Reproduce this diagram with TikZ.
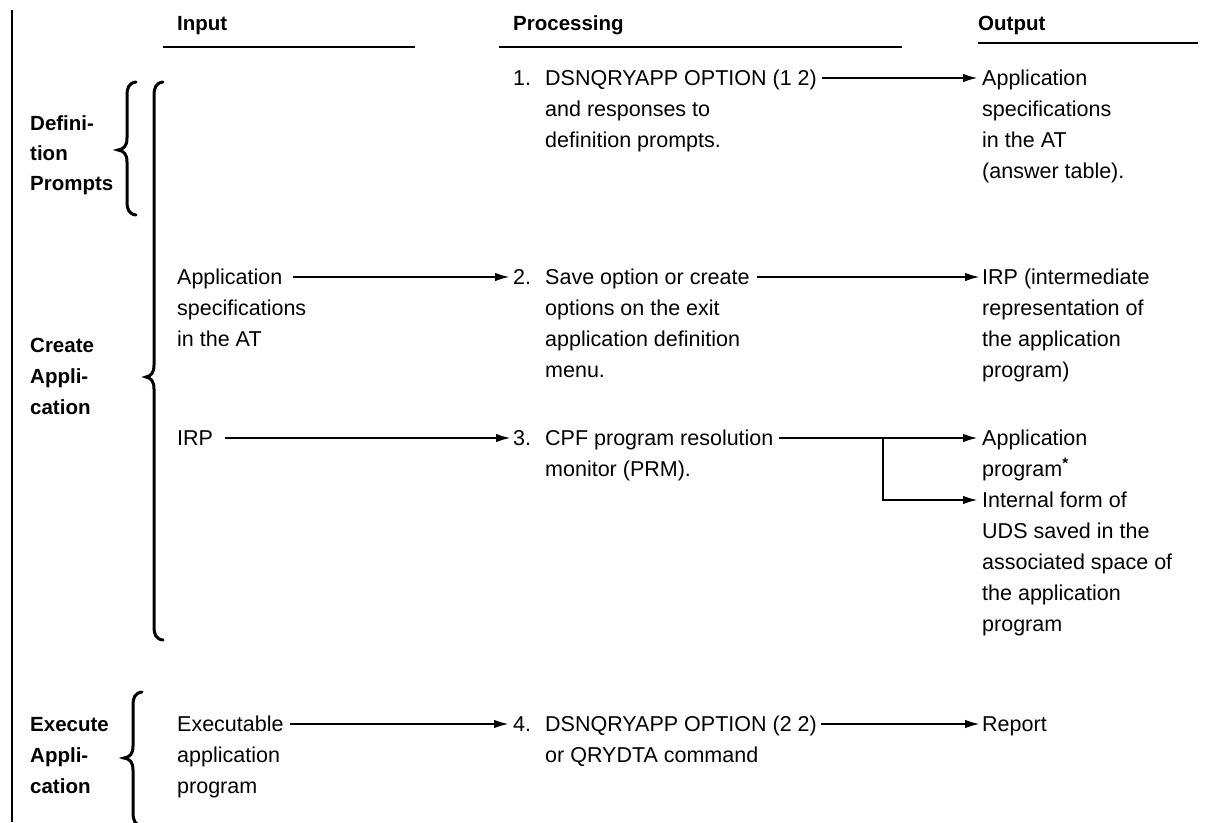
\documentclass[tikz,border=0pt]{standalone}
\usepackage{fontspec}
\setmainfont{Liberation Sans}
\usetikzlibrary{arrows.meta,calc}

% curly brace opening to the right: x, top, tip y, bottom, tip depth
\newcommand\curlybrace[5]{%
  \draw[bracestroke]
    ({#1+9},#2) .. controls ({#1+2},{#2+1}) and (#1,{#2+5}) .. (#1,{#2+14})
    -- (#1,{#3-12}) .. controls (#1,{#3-4}) and ({#1-3},{#3-1}) .. ({#1-#5},#3)
    .. controls ({#1-3},{#3+1}) and (#1,{#3+4}) .. (#1,{#3+12})
    -- (#1,{#4-14}) .. controls (#1,{#4-5}) and ({#1+2},{#4-1}) .. ({#1+9},#4);}

\begin{document}
\begin{tikzpicture}[x=1pt,y=-1pt,
  txt/.style={inner sep=0pt,anchor=base west,font=\fontsize{21.5}{26}\selectfont},
  head/.style={txt,font=\fontsize{20.5}{25}\selectfont\bfseries},
  rule/.style={line width=2.2pt},
  bracestroke/.style={line width=3pt,line cap=round},
  conn/.style={line width=2.2pt,-{Latex[length=15pt,width=8.5pt]}}]

\fill[white] (0,0) rectangle (1207,822);
\useasboundingbox (0,0) rectangle (1207,822);

% left margin rule
\draw[line width=2.8pt] (12,10) -- (12,822);

% column headings
\node[head] (hin)  at (177,30) {Input};
\node[head] (hpro) at (513,30) {Processing};
\node[head] (hout) at (978,30) {Output};
\draw[rule] (163,47) -- (415,47);
\draw[rule] (499,47) -- (902,47);
\draw[rule] (978,43) -- (1198,43);

% phase labels
\node[head] (d1) at (30,130) {Defini-};
\node[head] (d2) at (30,160) {tion};
\node[head] (d3) at (30,190) {Prompts};
\node[head] (c1) at (30,352) {Create};
\node[head] (c2) at (30,383) {Appli-};
\node[head] (c3) at (30,414) {cation};
\node[head] (e1) at (30,731) {Execute};
\node[head] (e2) at (30,762) {Appli-};
\node[head] (e3) at (30,793) {cation};

% braces
\curlybrace{127}{82}{150}{215}{9}
\curlybrace{154}{82}{377}{640}{8}
\curlybrace{133}{692}{758}{826}{9}

% step 1
\node[txt] (n1)  at (513,85)  {1.};
\node[txt] (p1a) at (545,85)  {DSNQRYAPP OPTION (1 2)};
\node[txt] (p1b) at (545,116) {and responses to};
\node[txt] (p1c) at (545,147) {definition prompts.};
\node[txt] (o1a) at (982,85)  {Application};
\node[txt] (o1b) at (982,116) {specifications};
\node[txt] (o1c) at (982,147) {in the AT};
\node[txt] (o1d) at (982,178) {(answer table).};

% step 2
\node[txt] (i2a) at (177,284) {Application};
\node[txt] (i2b) at (177,315) {specifications};
\node[txt] (i2c) at (177,346) {in the AT};
\node[txt] (n2)  at (513,284) {2.};
\node[txt] (p2a) at (545,284) {Save option or create};
\node[txt] (p2b) at (545,315) {options on the exit};
\node[txt] (p2c) at (545,346) {application definition};
\node[txt] (p2d) at (545,377) {menu.};
\node[txt] (o2a) at (982,284) {IRP (intermediate};
\node[txt] (o2b) at (982,315) {representation of};
\node[txt] (o2c) at (982,346) {the application};
\node[txt] (o2d) at (982,377) {program)};

% step 3
\node[txt] (i3)  at (177,445) {IRP};
\node[txt] (n3)  at (513,445) {3.};
\node[txt] (p3a) at (545,445) {CPF program resolution};
\node[txt] (p3b) at (545,476) {monitor (PRM).};
\node[txt] (o3a) at (982,445) {Application};
\node[txt] (o3b) at (982,476) {program\textsuperscript{\bfseries *}};
\node[txt] (o3c) at (982,507) {Internal form of};
\node[txt] (o3d) at (982,538) {UDS saved in the};
\node[txt] (o3e) at (982,569) {associated space of};
\node[txt] (o3f) at (982,600) {the application};
\node[txt] (o3g) at (982,631) {program};

% step 4
\node[txt] (i4a) at (177,731) {Executable};
\node[txt] (i4b) at (177,762) {application};
\node[txt] (i4c) at (177,793) {program};
\node[txt] (n4)  at (513,731) {4.};
\node[txt] (p4a) at (545,731) {DSNQRYAPP OPTION (2 2)};
\node[txt] (p4b) at (545,762) {or QRYDTA command};
\node[txt] (o4)  at (982,731) {Report};

% flow arrows
\draw[conn] ($(p1a.base east)+(5,-7)$) -- ($(o1a.base west)+(-4,-7)$);
\draw[conn] ($(i2a.base east)+(10,-7)$) -- ($(n2.base west)+(-3,-7)$);
\draw[conn] ($(p2a.base east)+(7,-7)$) -- ($(o2a.base west)+(-2,-7)$);
\draw[conn] ($(i3.base east)+(12,-7)$) -- ($(n3.base west)+(-2,-7)$);
\draw[conn] ($(p3a.base east)+(5,-7)$) -- ($(o3a.base west)+(-4,-7)$);
\coordinate (split) at (883,438);
\draw[conn] (split) |- ($(o3c.base west)+(-4,-7)$);
\draw[conn] ($(i4a.base east)+(6,-7)$) -- ($(n4.base west)+(-4,-7)$);
\draw[conn] ($(p4a.base east)+(4,-7)$) -- ($(o4.base west)+(-2,-7)$);

\end{tikzpicture}
\end{document}
